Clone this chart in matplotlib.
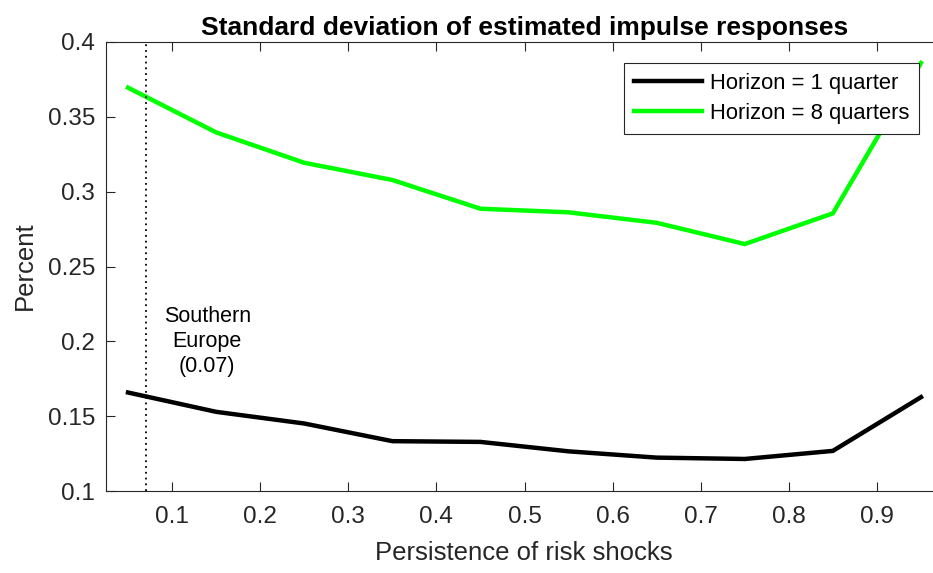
import matplotlib
matplotlib.use("Agg")
import matplotlib.pyplot as plt

persistence = [0.05, 0.15, 0.25, 0.35, 0.45, 0.55, 0.65, 0.75, 0.85, 0.95]
horizon_1q = [0.1658, 0.1529, 0.1451, 0.1333, 0.1328, 0.1265, 0.1223, 0.1214, 0.1268, 0.1627]
horizon_8q = [0.3695, 0.3396, 0.3193, 0.3078, 0.2886, 0.2862, 0.2792, 0.2650, 0.2855, 0.3860]
southern_europe = 0.07
xticks = [0.1, 0.2, 0.3, 0.4, 0.5, 0.6, 0.7, 0.8, 0.9]
yticks = [0.1, 0.15, 0.2, 0.25, 0.3, 0.35, 0.4]
ytick_labels = ["0.1", "0.15", "0.2", "0.25", "0.3", "0.35", "0.4"]

plt.rcParams['font.family'] = ['Liberation Sans', 'DejaVu Sans']
W, H = 933, 573
fig = plt.figure(figsize=(W / 100, H / 100), dpi=100)
L, R, T, B = 106, 943, 42, 491
ax = fig.add_axes([L / W, 1 - B / H, (R - L) / W, (B - T) / H])

axc = '#262626'
ax.plot(persistence, horizon_1q, color='black', lw=3.2, label='Horizon = 1 quarter', solid_joinstyle='miter')
ax.plot(persistence, horizon_8q, color='#00ff00', lw=3.2, label='Horizon = 8 quarters', solid_joinstyle='miter')
ax.plot([southern_europe, southern_europe], [0.1, 0.4], color='black', lw=1.3, ls=(0, (1, 2.2)))
ax.text(0.14, 0.2, 'Southern\nEurope\n(0.07)', ha='center', va='center', fontsize=15.5,
        linespacing=1.25, color='black')

ax.set_xlim(0.025, 0.975)
ax.set_ylim(0.1, 0.4)
ax.set_xticks(xticks)
ax.set_xticklabels([f"{v:g}" for v in xticks])
ax.set_yticks(yticks)
ax.set_yticklabels(ytick_labels)
ax.tick_params(direction='in', length=6.5, width=0.8, colors=axc, labelsize=17.5,
               top=True, right=True)
ax.tick_params(axis='x', pad=11)
ax.tick_params(axis='y', pad=8)
for s in ax.spines.values():
    s.set_color(axc)
    s.set_linewidth(0.8)

ax.set_title('Standard deviation of estimated impulse responses', fontsize=19,
             fontweight='bold', pad=5)
fig.text(524 / W, 1 - 553 / H, 'Persistence of risk shocks', ha='center', va='center',
         fontsize=18.5, color=axc)
fig.text(25 / W, 1 - 266 / H, 'Percent', ha='center', va='center', rotation=90,
         fontsize=18.5, color=axc)

leg = ax.legend(loc='upper right', bbox_to_anchor=(919 / W, 1 - 63 / H),
                bbox_transform=fig.transFigure, borderaxespad=0, fontsize=15.8,
                fancybox=False, framealpha=1, edgecolor=axc, handlelength=3.1,
                handletextpad=0.35, borderpad=0.45, labelspacing=0.42)
leg.get_frame().set_linewidth(0.8)

fig.savefig('out.png', dpi=100)
